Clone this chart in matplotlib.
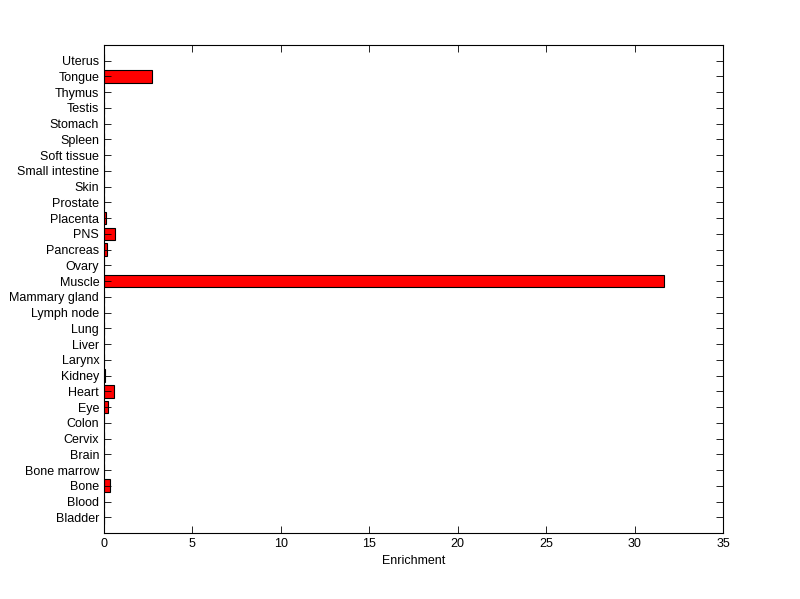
import matplotlib
matplotlib.use("Agg")
import matplotlib.pyplot as plt

plt.rcParams["font.family"] = ["Liberation Sans", "DejaVu Sans"]

tissues = ["Bladder", "Blood", "Bone", "Bone marrow", "Brain", "Cervix", "Colon",
           "Eye", "Heart", "Kidney", "Larynx", "Liver", "Lung", "Lymph node",
           "Mammary gland", "Muscle", "Ovary", "Pancreas", "PNS", "Placenta",
           "Prostate", "Skin", "Small intestine", "Soft tissue", "Spleen",
           "Stomach", "Testis", "Thymus", "Tongue", "Uterus"]
enrichment = [0, 0, 0.32, 0, 0, 0, 0,
              0.2, 0.55, 0.08, 0, 0, 0, 0,
              0, 31.67, 0, 0.15, 0.64, 0.1,
              0, 0, 0, 0, 0,
              0, 0, 0, 2.7, 0]

fig = plt.figure(figsize=(8, 5.99), dpi=100)
ax = fig.add_axes([0.13, 0.1102, 0.77375, 0.8147])

pos = list(range(1, len(tissues) + 1))
ax.barh(pos, enrichment, height=0.8, color="#ff0000", edgecolor="black", linewidth=0.8)

ax.set_xlim(0, 35)
ax.set_ylim(0, len(tissues) + 1)
ax.set_xticks(range(0, 36, 5))
ax.set_yticks(pos)
ax.set_yticklabels(tissues)
ax.tick_params(direction="in", top=True, right=True, labelsize=9, length=5, width=0.6)
for s in ax.spines.values():
    s.set_linewidth(0.8)
ax.set_xlabel("Enrichment", fontsize=9)

fig.savefig("out.png", dpi=100, facecolor="white")
